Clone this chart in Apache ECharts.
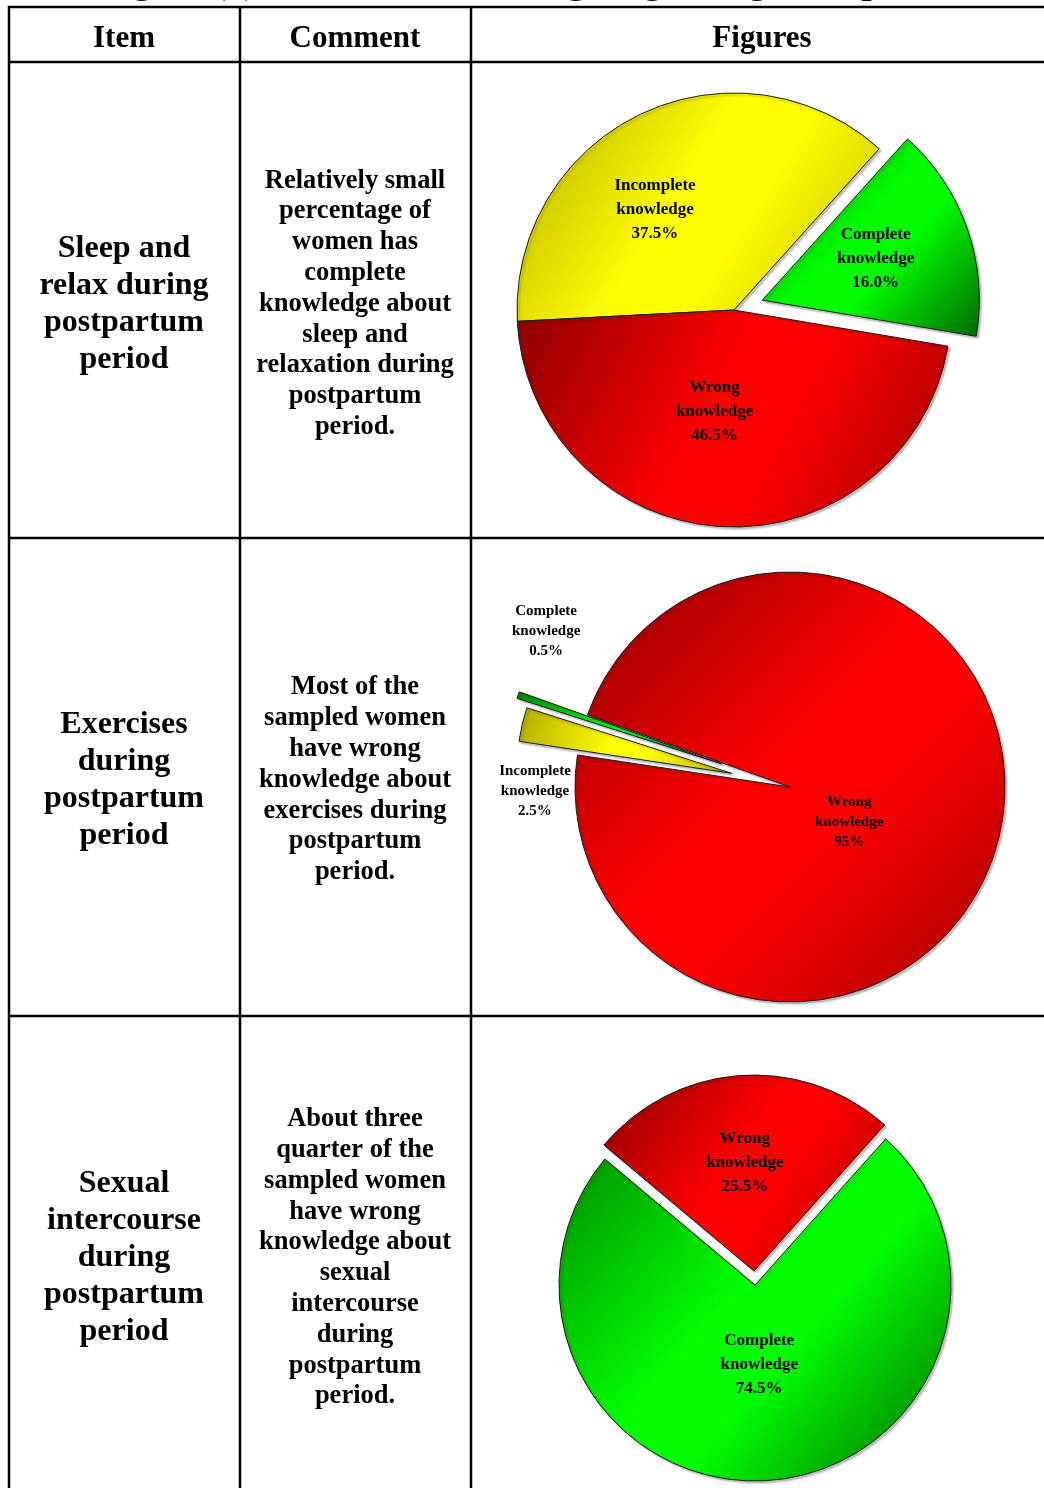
<!DOCTYPE html>
<html lang="en">

<head>
    <meta charset="UTF-8">
    <title>Postpartum knowledge</title>
    <script src="https://cdn.jsdelivr.net/npm/echarts@6/dist/echarts.min.js"></script>
    <style>
        body { margin: 0; background: #fff; }
        #main { width: 1044px; height: 1488px; }
    </style>
</head>

<body>
    <div id="main"></div>
    <script>
        // table texts
        var titleText = "Figure (4): Women's knowledge regarding their practices"
        var headers = ['Item', 'Comment', 'Figures']
        var items = [
            'Sleep and\nrelax during\npostpartum\nperiod',
            'Exercises\nduring\npostpartum\nperiod',
            'Sexual\nintercourse\nduring\npostpartum\nperiod'
        ]
        var comments = [
            'Relatively small\npercentage of\nwomen has\ncomplete\nknowledge about\nsleep and\nrelaxation during\npostpartum\nperiod.',
            'Most of the\nsampled women\nhave wrong\nknowledge about\nexercises during\npostpartum\nperiod.',
            'About three\nquarter of the\nsampled women\nhave wrong\nknowledge about\nsexual\nintercourse\nduring\npostpartum\nperiod.'
        ]

        // pie data (percent of women)
        var sleepNames = ['Incomplete knowledge', 'Complete knowledge', 'Wrong knowledge']
        var sleepValues = [37.5, 16.0, 46.5]
        var exerciseNames = ['Wrong knowledge', 'Incomplete knowledge', 'Complete knowledge']
        var exerciseValues = [95, 2.5, 0.5]
        var sexNames = ['Wrong knowledge', 'Complete knowledge']
        var sexValues = [25.5, 74.5]

        var serif = '"Liberation Serif", "Times New Roman", serif'

        function grad(c0, c1, c2) {
            return new echarts.graphic.LinearGradient(0, 0, 1, 1, [
                { offset: 0, color: c0 },
                { offset: 0.45, color: c1 },
                { offset: 0.6, color: c1 },
                { offset: 1, color: c2 }
            ])
        }
        var fills = {
            'Wrong knowledge': grad('#8c0000', '#ff0000', '#a00000'),
            'Incomplete knowledge': grad('#b4aa00', '#ffff00', '#c4bc00'),
            'Complete knowledge': grad('#008a00', '#00ff00', '#006a00')
        }

        // one series per visible slice so each slice can have its own pull-out
        function makePie(cfg) {
            return cfg.names.map(function(name, i) {
                var shift = cfg.shifts[i]
                return {
                    type: 'pie',
                    center: cfg.center,
                    radius: [0, cfg.radius],
                    startAngle: cfg.startAngle,
                    clockwise: true,
                    avoidLabelOverlap: false,
                    animation: false,
                    selectedMode: 'multiple',
                    selectedOffset: cfg.offsets[i],
                    emphasis: { disabled: true },
                    labelLine: { show: false },
                    labelLayout: function(p) {
                        if (p.dataIndex !== i) return
                        return { dx: shift[0], dy: shift[1] }
                    },
                    data: cfg.names.map(function(n, j) {
                        var mine = j === i
                        return {
                            name: n,
                            value: cfg.values[j],
                            selected: mine && cfg.offsets[i] > 0,
                            itemStyle: mine ? {
                                color: fills[n],
                                borderColor: '#1a1a1a',
                                borderWidth: 1,
                                shadowColor: 'rgba(0,0,0,0.25)',
                                shadowBlur: 2,
                                shadowOffsetX: 2,
                                shadowOffsetY: 2
                            } : { color: 'rgba(0,0,0,0)', borderWidth: 0 },
                            label: {
                                show: mine,
                                position: 'inside',
                                color: '#000',
                                fontFamily: serif,
                                fontWeight: 'bold',
                                fontSize: cfg.fontSize,
                                lineHeight: cfg.lineHeight,
                                align: 'center',
                                formatter: function(a) {
                                    return a.name.replace(' ', '\n') + '\n' + cfg.fmt(a.value) + '%'
                                }
                            }
                        }
                    })
                }
            })
        }

        var series = [].concat(
            makePie({
                names: sleepNames, values: sleepValues, center: [734, 310], radius: 217, startAngle: 183,
                offsets: [0, 30, 0], shifts: [[-31, 0], [8, -5], [-13, -10]],
                fontSize: 17, lineHeight: 24,
                fmt: function(v) { return v.toFixed(1) }
            }),
            makePie({
                names: exerciseNames, values: exerciseValues, center: [790, 787], radius: 215, startAngle: 160.4,
                offsets: [0, 60, 72], shifts: [[-48, 8], [-89, 43], [-71, -97]],
                fontSize: 15, lineHeight: 20,
                fmt: function(v) { return String(v) }
            }),
            makePie({
                names: sexNames, values: sexValues, center: [755, 1285], radius: 196, startAngle: 140,
                offsets: [14, 0], shifts: [[-2, -8], [-3, -21]],
                fontSize: 17, lineHeight: 24,
                fmt: function(v) { return v.toFixed(1) }
            })
        )

        // table grid
        var colX = [9, 240, 471]
        var rowY = [7, 62, 538, 1016]
        var graphics = []
        rowY.forEach(function(y) {
            graphics.push({ type: 'line', shape: { x1: 8, y1: y, x2: 1044, y2: y }, style: { stroke: '#000', lineWidth: 2.5 } })
        })
        colX.forEach(function(x) {
            graphics.push({ type: 'line', shape: { x1: x, y1: 6, x2: x, y2: 1488 }, style: { stroke: '#000', lineWidth: 2.5 } })
        })

        // title (only its lower part shows at the top edge)
        graphics.push({
            type: 'text', x: 100, y: 2,
            style: { text: titleText, font: 'bold 37px ' + serif, fill: '#000', align: 'left', verticalAlign: 'bottom' }
        })

        var headerX = [124, 355, 762]
        headers.forEach(function(h, i) {
            graphics.push({
                type: 'text', x: headerX[i], y: 39,
                style: { text: h, font: 'bold 31px ' + serif, fill: '#000', align: 'center', verticalAlign: 'middle' }
            })
        })

        var rowMid = [304, 780, 1258]
        items.forEach(function(t, i) {
            graphics.push({
                type: 'text', x: 124, y: rowMid[i],
                style: { text: t, font: 'bold 32px ' + serif, lineHeight: 37, fill: '#000', align: 'center', verticalAlign: 'middle' }
            })
            graphics.push({
                type: 'text', x: 355, y: rowMid[i],
                style: { text: comments[i], font: 'bold 26.5px ' + serif, lineHeight: 30.8, fill: '#000', align: 'center', verticalAlign: 'middle' }
            })
        })

        var mCharts = echarts.init(document.getElementById('main'))
        mCharts.setOption({
            backgroundColor: '#fff',
            animation: false,
            graphic: graphics,
            series: series
        })
    </script>
</body>

</html>
